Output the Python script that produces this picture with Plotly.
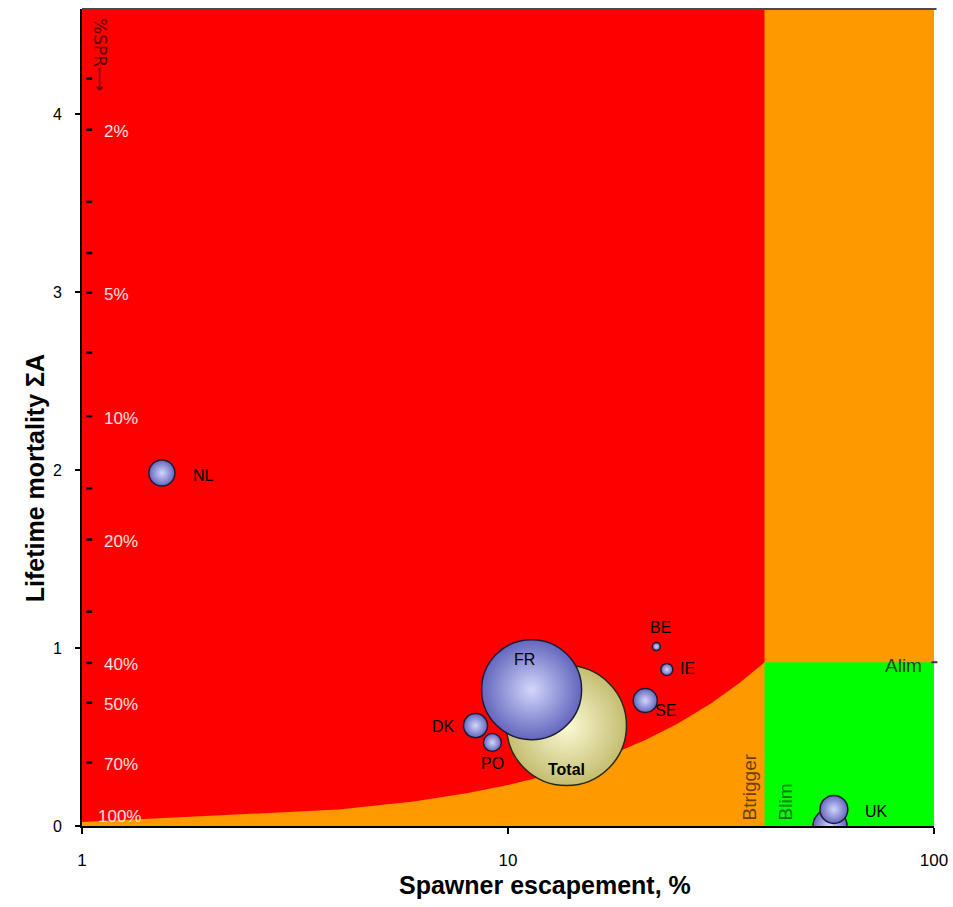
import numpy as np
import plotly.graph_objects as go

# ---------------- data ----------------
# country bubbles (spawner escapement %, lifetime mortality sum A, relative weight)
blue_labels = ["", "FR", "NL", "DK", "PO", "BE", "IE", "SE", "UK"]
blue_escapement = [57.0, 11.36, 1.54, 8.39, 9.19, 22.3, 23.6, 21.0, 58.2]
blue_mortality = [0.0, 0.766, 1.983, 0.564, 0.469, 1.008, 0.879, 0.705, 0.093]
blue_weight = [11.6, 100.0, 6.8, 5.8, 3.2, 0.64, 1.44, 5.8, 7.8]

total_label = ["Total"]
total_escapement = [13.72]
total_mortality = [0.564]
total_weight = [144.0]

# reference points
Btrigger = 40.0
Blim = 40.0
Alim = 0.92
boundary_escapement = [1, 4, 6, 8, 10, 12, 15, 18, 21, 25, 30, 35, 40]
boundary_mortality = [0.023, 0.092, 0.138, 0.184, 0.23, 0.276, 0.345, 0.414,
                      0.483, 0.575, 0.69, 0.805, 0.92]

spr_tick_pct = [1.5, 2, 3, 4, 5, 7, 10, 15, 20, 30, 40, 50, 70]
spr_label_pct = [2, 5, 10, 20, 40, 50, 70, 100]

x_ticks = [1, 10, 100]
y_ticks = [0, 1, 2, 3, 4]
y_max = 4.59

# ---------------- styles ----------------
RED = "#ff0000"
ORANGE = "#ff9900"
GREEN = "#00ff00"
FONT = "Liberation Sans, Arial, sans-serif"

fig = go.Figure()

# red zone (above the boundary, left of Btrigger)
red_x = list(boundary_escapement) + [Btrigger, boundary_escapement[0]]
red_y = list(boundary_mortality) + [y_max + 1, y_max + 1]
fig.add_trace(go.Scatter(x=red_x, y=red_y, fill="toself", fillcolor=RED,
                         mode="lines", line=dict(width=0, color=RED),
                         hoverinfo="skip", showlegend=False))
# green zone
fig.add_trace(go.Scatter(x=[Blim, 100, 100, Blim, Blim], y=[0, 0, Alim, Alim, 0],
                         fill="toself", fillcolor=GREEN, mode="lines",
                         line=dict(width=0, color=GREEN),
                         hoverinfo="skip", showlegend=False))

# Total bubble (yellow)
fig.add_trace(go.Scatter(
    x=total_escapement, y=total_mortality, mode="markers",
    marker=dict(size=total_weight, sizemode="area", sizeref=0.02,
                color="#c4bd70", gradient=dict(type="radial", color="#fbfbd6"),
                line=dict(color="#2a2a1a", width=1.5), opacity=1),
    hoverinfo="skip", showlegend=False))

# country bubbles (blue)
fig.add_trace(go.Scatter(
    x=blue_escapement, y=blue_mortality, mode="markers",
    marker=dict(size=blue_weight, sizemode="area", sizeref=0.02,
                color="#6366bd", gradient=dict(type="radial", color="#d3d6fb"),
                line=dict(color="#1c1c36", width=1.5), opacity=1),
    hoverinfo="skip", showlegend=False))

annotations = []
# bubble labels (pixel offsets from bubble centre)
label_shift = {"FR": (-7, 30), "NL": (42, -2), "DK": (-32, -1), "PO": (0, -21),
               "BE": (4, 19), "IE": (21, 1), "SE": (20, -10), "UK": (43, -2)}
for lab, ex, my in zip(blue_labels, blue_escapement, blue_mortality):
    if not lab:
        continue
    dx, dy = label_shift[lab]
    annotations.append(dict(x=np.log10(ex), y=my, text=lab, showarrow=False,
                            xshift=dx, yshift=dy,
                            font=dict(family=FONT, size=16, color="black")))
annotations.append(dict(x=np.log10(total_escapement[0]), y=total_mortality[0],
                        text="<b>Total</b>", showarrow=False, xshift=0, yshift=-44,
                        font=dict(family=FONT, size=16, color="black")))

# %SPR labels
for p in spr_label_pct:
    yv = -np.log(p / 100.0)
    if p == 100:
        annotations.append(dict(x=0.017, xref="paper", y=yv, xanchor="left",
                                yshift=10, text=f"{p}%", showarrow=False,
                                font=dict(family=FONT, size=17, color="#ffe2e2")))
    else:
        annotations.append(dict(x=0.024, xref="paper", y=yv, xanchor="left",
                                yshift=-2, text=f"{p}%", showarrow=False,
                                font=dict(family=FONT, size=17, color="#ffe2e2")))

annotations.append(dict(x=0.024, xref="paper", y=1, yref="paper", yshift=-7,
                        xanchor="center", yanchor="top", xshift=-2,
                        text="%SPR⟶", textangle=90, showarrow=False,
                        font=dict(family="DejaVu Sans, " + FONT, size=17, color="#5a0000")))

# reference labels
annotations.append(dict(x=np.log10(Btrigger), y=0, xanchor="right", yanchor="bottom",
                        xshift=-2, yshift=4, text="Btrigger", textangle=-90,
                        showarrow=False, font=dict(family=FONT, size=19, color="#6e4000")))
annotations.append(dict(x=np.log10(Blim), y=0, xanchor="left", yanchor="bottom",
                        xshift=9, yshift=4, text="Blim", textangle=-90,
                        showarrow=False, font=dict(family=FONT, size=19, color="#187018")))
annotations.append(dict(x=1, xref="paper", y=Alim, xanchor="right", yanchor="middle",
                        xshift=-10, yshift=-3, text="Alim", showarrow=False,
                        font=dict(family=FONT, size=19, color="#2e3e2e")))

# axis titles
annotations.append(dict(x=0.544, xref="paper", y=-0.0728, yref="paper",
                        xanchor="center", yanchor="middle",
                        text="<b>Spawner escapement, %</b>", showarrow=False,
                        font=dict(family="Liberation Sans Narrow, " + FONT, size=25, color="black")))
annotations.append(dict(x=-0.0557, xref="paper", y=0.425, yref="paper",
                        xanchor="center", yanchor="middle", textangle=-90,
                        text="<b>Lifetime mortality ΣA</b>", showarrow=False,
                        font=dict(family=FONT, size=25, color="black")))

shapes = []
for p in spr_tick_pct:
    yv = -np.log(p / 100.0)
    shapes.append(dict(type="line", xref="paper", yref="y", x0=0.005, x1=0.012,
                       y0=yv, y1=yv, line=dict(color="black", width=2.5)))
# right tick at Alim
shapes.append(dict(type="line", xref="paper", yref="y", x0=0.997, x1=1.004,
                   y0=Alim, y1=Alim, line=dict(color="#333333", width=2)))
# top frame line
shapes.append(dict(type="line", xref="paper", yref="paper", x0=0, x1=1.003,
                   y0=1, y1=1, line=dict(color="#4a4a4a", width=2)))

fig.update_layout(
    width=953, height=907,
    margin=dict(l=82, r=19, t=9, b=81, autoexpand=False),
    paper_bgcolor="white", plot_bgcolor=ORANGE,
    showlegend=False,
    annotations=annotations, shapes=shapes,
    font=dict(family=FONT, size=16, color="black"),
    xaxis=dict(type="log", range=[0, 2], tickvals=x_ticks,
               ticktext=[str(v) for v in x_ticks],
               ticks="outside", ticklen=6, tickwidth=1.5, tickcolor="black",
               ticklabelstandoff=12, automargin=False,
               showline=True, linecolor="black", linewidth=2,
               showgrid=False, zeroline=False,
               tickfont=dict(family=FONT, size=17, color="black")),
    yaxis=dict(range=[0, y_max], tickvals=y_ticks,
               ticks="outside", ticklen=5, tickwidth=1.5, tickcolor="black",
               ticklabelstandoff=10, automargin=False,
               showline=True, linecolor="black", linewidth=2,
               showgrid=False, zeroline=False,
               tickfont=dict(family=FONT, size=16, color="black")),
)

fig.write_html("out.html", config={"displayModeBar": False},
               post_script="document.body.style.margin='0';")
